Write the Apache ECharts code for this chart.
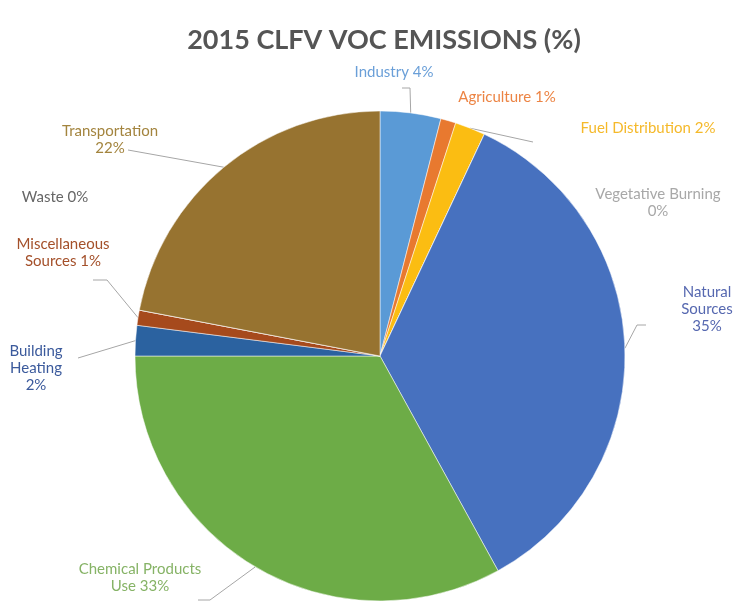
<!DOCTYPE html>
<html>
<head>
<meta charset="utf-8">
<script src="https://cdn.jsdelivr.net/npm/echarts@6/dist/echarts.min.js"></script>
<style>
  html, body { margin: 0; padding: 0; background: #fff; }
  #main { width: 736px; height: 606px; }
</style>
</head>
<body>
<div id="main"></div>
<script>
// data (clockwise from 12 o'clock)
var categories = ['Industry', 'Agriculture', 'Fuel Distribution', 'Vegetative Burning', 'Natural Sources',
  'Chemical Products Use', 'Building Heating', 'Miscellaneous Sources', 'Waste', 'Transportation'];
var shares = [4, 1, 2, 0, 35, 33, 2, 1, 0, 22];
var labelTexts = ['Industry {v}%', 'Agriculture {v}%', 'Fuel Distribution {v}%', 'Vegetative Burning\n{v}%',
  'Natural\nSources\n{v}%', 'Chemical Products\nUse {v}%', 'Building\nHeating\n{v}%',
  'Miscellaneous\nSources {v}%', 'Waste {v}%', 'Transportation\n{v}%'];

// styling
var sliceColors = ['#5a9ad6', '#e8792f', '#fbbd12', '#a5a5a5', '#4771bf', '#6dac47', '#2b62a0', '#a64a1c', '#636363', '#977330'];
var textColors = ['#6a9fd8', '#ec8444', '#f5b92a', '#a8a8a8', '#5668b0', '#86b366', '#3b5a9c', '#a4502a', '#666666', '#a3843e'];
// label centre and leader line points (bend, end); null = no line
var labelPos = [[394, 72], [507, 97], [648, 128], [658, 203], [707, 309], [140, 578], [36, 368], [63, 253], [55, 197], [110, 140]];
var leader = [
  [[410, 88], [402, 88]],
  null,
  [[533, 142], [533, 142]],
  null,
  [[637, 325], [646, 325]],
  [[210, 600], [198, 600]],
  [[78, 358], [78, 358]],
  [[107, 280], [93, 280]],
  null,
  [[128, 150], [128, 150]]
];

var myChart = echarts.init(document.getElementById('main'));

var seriesData = categories.map(function (name, i) {
  return {
    name: name,
    value: shares[i],
    itemStyle: { color: sliceColors[i] },
    label: { color: textColors[i] },
    labelLine: { show: leader[i] !== null }
  };
});

var option = {
  animation: false,
  title: {
    text: '2015 CLFV VOC EMISSIONS (%)',
    left: 379,
    textAlign: 'center',
    top: 22,
    textStyle: { fontFamily: 'Lato', fontWeight: 'bold', fontSize: 27, color: '#555555' }
  },
  series: [{
    type: 'pie',
    center: [380, 356],
    radius: 245,
    startAngle: 90,
    clockwise: true,
    avoidLabelOverlap: false,
    data: seriesData,
    itemStyle: { borderColor: '#fff', borderWidth: 0.5 },
    label: {
      show: true,
      position: 'outside',
      fontFamily: 'Lato',
      fontSize: 15,
      lineHeight: 17,
      formatter: function (p) {
        return labelTexts[p.dataIndex].replace('{v}', p.value);
      }
    },
    labelLine: {
      show: true,
      lineStyle: { color: '#a6a6a6', width: 1 }
    },
    labelLayout: function (params) {
      var i = params.dataIndex;
      var res = {
        x: labelPos[i][0],
        y: labelPos[i][1],
        align: 'center',
        verticalAlign: 'middle'
      };
      if (leader[i] && params.labelLinePoints) {
        res.labelLinePoints = [params.labelLinePoints[0], leader[i][0], leader[i][1]];
      }
      return res;
    }
  }]
};

myChart.setOption(option);
</script>
</body>
</html>
